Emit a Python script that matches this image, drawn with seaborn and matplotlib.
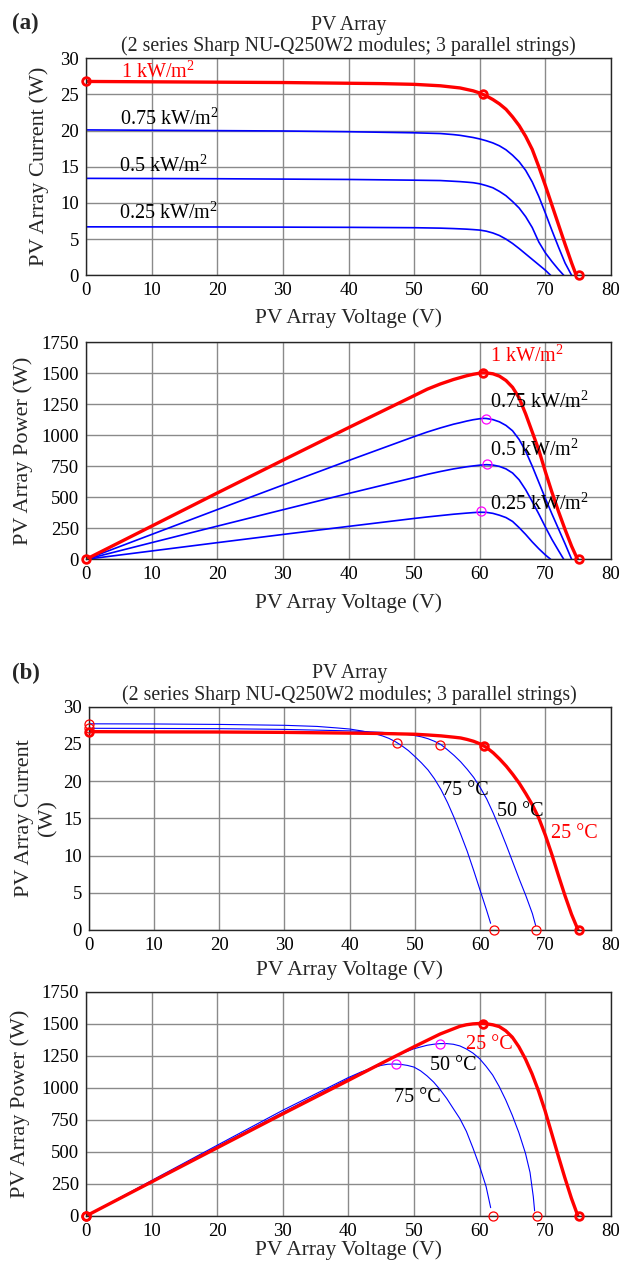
import numpy as np
import pandas as pd
import matplotlib
matplotlib.use("Agg")
import matplotlib.pyplot as plt
import seaborn as sns

# ---- (a) irradiance sweep, 25 degC ----
# I-V curves
v_iv_1000 = [0, 10, 20, 30, 40, 45, 50, 52, 54, 56, 57, 58, 59, 60, 61, 62, 63, 64, 65, 66, 67, 68, 69, 70, 71, 72, 73, 74, 74.7]
i_iv_1000 = [26.8, 26.75, 26.7, 26.65, 26.55, 26.5, 26.4, 26.3, 26.2, 26.0, 25.9, 25.7, 25.5, 25.2, 24.8, 24.3, 23.7, 22.95,
             21.9, 20.7, 19.2, 17.4, 15.0, 12.4, 9.7, 7.0, 4.3, 1.7, 0]
v_iv_750 = [0, 10, 20, 30, 40, 50, 52, 54, 56, 57, 58, 59, 60, 61, 62, 63, 64, 65, 66, 67, 68, 69, 70, 71, 72, 73, 74]
i_iv_750 = [20.1, 20.05, 20.0, 19.95, 19.85, 19.7, 19.65, 19.6, 19.45, 19.35, 19.2, 19.05, 18.85, 18.6, 18.3, 17.9, 17.35,
            16.6, 15.7, 14.5, 12.9, 10.9, 8.6, 6.2, 3.9, 1.7, 0]
v_iv_500 = [0, 10, 20, 30, 40, 50, 54, 56, 57, 58, 59, 60, 61, 62, 63, 64, 65, 66, 67, 68, 69, 70, 71, 72, 72.8]
i_iv_500 = [13.4, 13.38, 13.35, 13.3, 13.25, 13.15, 13.1, 13.0, 12.95, 12.88, 12.8, 12.65, 12.4, 12.1, 11.6, 11.0, 10.2,
            9.3, 8.1, 6.6, 4.6, 3.1, 1.9, 0.8, 0]
v_iv_250 = [0, 10, 20, 30, 40, 50, 54, 56, 58, 59, 60, 61, 62, 63, 64, 65, 66, 67, 68, 69, 70, 70.8]
i_iv_250 = [6.7, 6.69, 6.68, 6.66, 6.63, 6.58, 6.52, 6.46, 6.38, 6.32, 6.25, 6.1, 5.85, 5.5, 5.0, 4.4, 3.7, 2.95, 2.2,
            1.45, 0.7, 0]

# P-V curves
v_pv_1000 = [0, 10, 20, 30, 40, 50, 52, 54, 56, 57, 58, 59, 60, 60.5, 61, 62, 63, 64, 65, 66, 67, 68, 69, 70, 71, 72, 73,
             74, 74.9]
p_pv_1000 = [0, 267, 534, 798, 1060, 1318, 1370, 1412, 1448, 1463, 1478, 1490, 1499, 1502, 1501, 1494, 1475, 1440, 1385,
             1300, 1170, 1025, 880, 705, 540, 385, 240, 105, 0]
v_pv_750 = [0, 10, 20, 30, 40, 50, 52, 54, 56, 57, 58, 59, 60, 60.5, 61, 62, 63, 64, 65, 66, 67, 68, 69, 70, 71, 72, 73, 74]
p_pv_750 = [0, 200, 400, 598, 795, 988, 1025, 1058, 1088, 1100, 1113, 1124, 1132, 1135, 1134, 1125, 1107, 1078, 1035, 965,
            870, 750, 620, 490, 365, 245, 125, 0]
v_pv_500 = [0, 10, 20, 30, 40, 50, 52, 54, 56, 58, 59, 60, 61, 62, 63, 64, 65, 66, 67, 68, 69, 70, 71, 72, 72.8]
p_pv_500 = [0, 134, 267, 399, 530, 658, 684, 707, 728, 745, 752, 758, 762, 759, 748, 728, 695, 640, 560, 465, 365, 260,
            160, 70, 0]
v_pv_250 = [0, 10, 20, 30, 40, 50, 52, 54, 56, 58, 59, 60, 61, 62, 63, 64, 65, 66, 67, 68, 69, 70, 70.8]
p_pv_250 = [0, 67, 134, 200, 265, 329, 341, 352, 363, 372, 376, 379, 378, 370, 355, 336, 305, 255, 200, 140, 85, 35, 0]

# operating-point markers
mk_iv_1000_v = [0, 60.5, 75.1]
mk_iv_1000_i = [26.8, 25.0, 0]
mk_pv_1000_v = [0, 60.5, 75.1]
mk_pv_1000_p = [0, 1502, 0]
mpp_a_v = [60.9, 61.1, 60.25]
mpp_a_p = [1133, 765, 389]

irr_labels = ["1 kW/m$^2$", "0.75 kW/m$^2$", "0.5 kW/m$^2$", "0.25 kW/m$^2$"]
irr_lab_iv = [(5.4, 28.1), (5.2, 21.6), (5.1, 15.1), (5.1, 8.6)]
irr_lab_pv = [(61.6, 1632), (61.6, 1267), (61.5, 880), (61.5, 443)]

# ---- (b) temperature sweep, 1 kW/m2 ----
v_iv_25 = [0, 10, 20, 30, 40, 45, 50, 52, 54, 56, 57, 58, 59, 60, 61, 62, 63, 64, 65, 66, 67, 68, 69, 70, 71, 72, 73, 74, 75]
i_iv_25 = [26.65, 26.62, 26.6, 26.55, 26.45, 26.4, 26.3, 26.2, 26.08, 25.9, 25.8, 25.6, 25.35, 25.0, 24.5, 23.8, 22.95,
           22.0, 20.9, 19.7, 18.3, 16.8, 15.0, 12.7, 10.1, 7.3, 4.6, 2.1, 0]
v_iv_50 = [0, 10, 20, 30, 40, 45, 47, 49, 50, 51, 52, 53, 54, 55, 56, 57, 58, 59, 60, 61, 62, 63, 64, 65, 66, 67, 68, 68.5]
i_iv_50 = [27.1, 27.08, 27.05, 26.95, 26.75, 26.55, 26.42, 26.25, 26.12, 25.95, 25.7, 25.35, 24.9, 24.2, 23.45, 22.6, 21.6,
           20.5, 19.15, 17.6, 15.7, 13.6, 11.4, 9.1, 6.8, 4.6, 2.2, 0.6]
v_iv_75 = [0, 10, 20, 30, 35, 38, 40, 42, 43, 44, 45, 46, 47, 48, 49, 50, 51, 52, 53, 54, 55, 56, 57, 58, 59, 60, 61, 61.6]
i_iv_75 = [27.7, 27.68, 27.62, 27.5, 27.35, 27.15, 27.0, 26.72, 26.55, 26.33, 26.08, 25.75, 25.3, 24.75, 24.1, 23.3, 22.45,
           21.5, 20.3, 18.85, 17.1, 15.1, 12.9, 10.6, 8.0, 5.3, 2.6, 0.9]

v_pv_25 = [0, 10, 20, 30, 40, 45, 50, 54, 56, 57, 58, 59, 60, 60.6, 61, 62, 63, 64, 65, 66, 67, 68, 69, 70, 71, 72, 73, 74, 75]
p_pv_25 = [0, 266, 532, 797, 1058, 1190, 1320, 1420, 1460, 1480, 1492, 1499, 1502, 1502, 1500, 1492, 1478, 1445, 1395, 1320,
           1225, 1110, 975, 820, 645, 470, 300, 140, 0]
v_pv_50 = [0, 10, 20, 30, 40, 45, 48, 50, 52, 53, 54, 55, 56, 57, 58, 59, 60, 61, 62, 63, 64, 65, 66, 67, 67.7, 68.2, 68.4]
p_pv_50 = [0, 271, 541, 809, 1070, 1195, 1265, 1305, 1332, 1340, 1345, 1345, 1340, 1327, 1303, 1271, 1228, 1168, 1100, 1010,
           905, 785, 650, 490, 340, 150, 40]
v_pv_75 = [0, 10, 20, 30, 40, 42, 44, 45, 46, 47, 48, 49, 50, 51, 52, 53, 54, 55, 56, 57, 58, 59, 60, 61, 61.7]
p_pv_75 = [0, 277, 552, 825, 1080, 1125, 1160, 1175, 1184, 1186, 1183, 1175, 1162, 1133, 1093, 1045, 985, 917, 838, 760,
           660, 530, 390, 230, 65]

mk_iv_25_v = [0, 60.6, 75.15]
mk_iv_25_i = [26.65, 24.7, 0]
mk_iv_thin_v = [0, 0, 47.2, 53.8, 62.1, 68.6]
mk_iv_thin_i = [27.7, 27.1, 25.1, 24.9, 0, 0]
mk_pv_25_v = [0, 60.6, 75.1]
mk_pv_25_p = [0, 1500, 0]
mk_pv_thin_v = [0, 62.1, 68.7]
mk_pv_thin_p = [0, 0, 0]
mpp_b_v = [47.3, 54.0]
mpp_b_p = [1187, 1344]

temp_labels = ["25 °C", "50 °C", "75 °C"]
temp_lab_iv = [(70.9, 13.0), (62.5, 15.9), (54.2, 18.7)]
temp_lab_pv = [(57.9, 1341), (52.5, 1172), (47.0, 924)]

title = "PV Array\n(2 series Sharp NU-Q250W2 modules; 3 parallel strings)"
xlab = "PV Array Voltage (V)"

sns.set_theme(style="whitegrid")
plt.rcParams["font.family"] = ["Liberation Serif", "DejaVu Serif"]
plt.rcParams["mathtext.fontset"] = "custom"
plt.rcParams["mathtext.rm"] = "Liberation Serif"
plt.rcParams["mathtext.it"] = "Liberation Serif:italic"

RED, BLUE, MAG = "#ff0000", "#0000ff", "#ff00ff"
W, H = 628, 1262
fig = plt.figure(figsize=(W / 100, H / 100), dpi=100)


def make_axes(left, right, top, bottom):
    return fig.add_axes([left / W, 1 - bottom / H, (right - left) / W, (bottom - top) / H])


def style(ax, ymax, ystep, ylabel, ylab_x, xlab_off, ls=1.15):
    ax.set_xlim(0, 80)
    ax.set_ylim(0, ymax)
    ax.set_xticks(np.arange(0, 81, 10))
    ax.set_yticks(np.arange(0, ymax + 1, ystep))
    ax.set_facecolor("white")
    ax.grid(True, color="#8a8a8a", lw=1.0)
    for s in ax.spines.values():
        s.set_color("#262626")
        s.set_linewidth(1.0)
    ax.tick_params(labelsize=13.5, direction="in", length=3, colors="#262626",
                   labelcolor="black", pad=5)
    bb = ax.get_position()
    hpx = bb.height * H
    wpx = bb.width * W
    ax.set_xlabel(xlab, fontsize=15.5, va="center")
    ax.xaxis.set_label_coords(0.5, -xlab_off / hpx)
    ax.set_ylabel(ylabel, fontsize=16, va="center", linespacing=ls)
    ax.yaxis.set_label_coords(-(bb.x0 * W - ylab_x) / wpx, 0.5)


def curve(ax, v, y, color, lw):
    sns.lineplot(x=v, y=y, ax=ax, color=color, linewidth=lw, sort=False, estimator=None)


def marks(ax, v, y, color, ms, mew):
    ax.plot(v, y, "o", mfc="none", mec=color, ms=ms, mew=mew, clip_on=False, zorder=5)


# ---- (a) I-V ----
ax1 = make_axes(86, 611, 58.3, 275.3)
curve(ax1, v_iv_750, i_iv_750, BLUE, 1.2)
curve(ax1, v_iv_500, i_iv_500, BLUE, 1.2)
curve(ax1, v_iv_250, i_iv_250, BLUE, 1.2)
curve(ax1, v_iv_1000, i_iv_1000, RED, 2.4)
marks(ax1, mk_iv_1000_v, mk_iv_1000_i, RED, 5.5, 2)
for k, (lab, (x, y)) in enumerate(zip(irr_labels, irr_lab_iv)):
    ax1.text(x, y, lab, color=RED if k == 0 else "black", fontsize=14.5, va="center", ha="left")
ax1.set_title(title, fontsize=14.3, pad=5, linespacing=1.12)
style(ax1, 30, 5, "PV Array Current (W)", 39, 43)

# ---- (a) P-V ----
ax2 = make_axes(86, 611, 342, 559.3)
curve(ax2, v_pv_750, p_pv_750, BLUE, 1.2)
curve(ax2, v_pv_500, p_pv_500, BLUE, 1.2)
curve(ax2, v_pv_250, p_pv_250, BLUE, 1.2)
curve(ax2, v_pv_1000, p_pv_1000, RED, 2.4)
marks(ax2, mk_pv_1000_v, mk_pv_1000_p, RED, 5.5, 2)
marks(ax2, mpp_a_v, mpp_a_p, MAG, 6.5, 0.9)
for k, (lab, (x, y)) in enumerate(zip(irr_labels, irr_lab_pv)):
    ax2.text(x, y, lab, color=RED if k == 0 else "black", fontsize=14.5, va="center", ha="left")
style(ax2, 1750, 250, "PV Array Power (W)", 23, 44)

# ---- (b) I-V ----
ax3 = make_axes(88.7, 610.7, 706.7, 930)
curve(ax3, v_iv_75, i_iv_75, BLUE, 0.8)
curve(ax3, v_iv_50, i_iv_50, BLUE, 0.8)
curve(ax3, v_iv_25, i_iv_25, RED, 2.4)
marks(ax3, mk_iv_thin_v, mk_iv_thin_i, RED, 6.5, 0.9)
marks(ax3, mk_iv_25_v, mk_iv_25_i, RED, 5.5, 2)
for k, (lab, (x, y)) in enumerate(zip(temp_labels, temp_lab_iv)):
    ax3.text(x, y, lab, color=RED if k == 0 else "black", fontsize=14.5, va="center", ha="left")
ax3.set_title(title, fontsize=14.3, pad=5, linespacing=1.12)
style(ax3, 30, 5, "PV Array Current\n(W)", 36, 40, ls=1.3)

# ---- (b) P-V ----
ax4 = make_axes(86, 610.7, 991.7, 1216)
curve(ax4, v_pv_75, p_pv_75, BLUE, 0.8)
curve(ax4, v_pv_50, p_pv_50, BLUE, 0.8)
curve(ax4, v_pv_25, p_pv_25, RED, 2.4)
marks(ax4, mk_pv_thin_v, mk_pv_thin_p, RED, 6.5, 0.9)
marks(ax4, mk_pv_25_v, mk_pv_25_p, RED, 5.5, 2)
marks(ax4, mpp_b_v, mpp_b_p, MAG, 6.5, 0.9)
for k, (lab, (x, y)) in enumerate(zip(temp_labels, temp_lab_pv)):
    ax4.text(x, y, lab, color=RED if k == 0 else "black", fontsize=14.5, va="center", ha="left")
style(ax4, 1750, 250, "PV Array Power (W)", 20, 34)

fig.text(12 / W, 1 - 23 / H, "(a)", fontsize=16.5, fontweight="bold", va="center", ha="left")
fig.text(12 / W, 1 - 673 / H, "(b)", fontsize=16.5, fontweight="bold", va="center", ha="left")

fig.savefig("out.png", dpi=100, facecolor="white")
